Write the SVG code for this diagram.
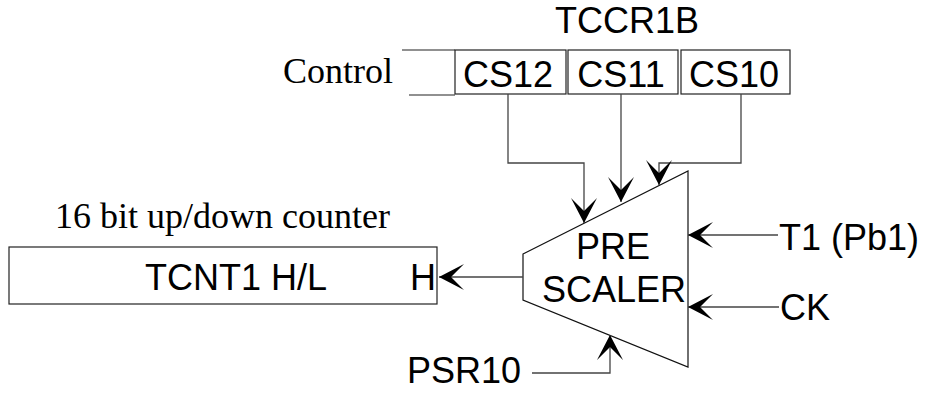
<svg xmlns="http://www.w3.org/2000/svg" width="926" height="396" viewBox="0 0 926 396">
<style>
.sans{font-family:"Liberation Sans",Arial,sans-serif;font-size:36px;fill:#000}
.serif{font-family:"Liberation Serif","Times New Roman",serif;font-size:36px;fill:#000}
.box{fill:#fff;stroke:#222;stroke-width:1.2}
.wire{fill:none;stroke:#444;stroke-width:1.3;marker-end:url(#arr)}
</style>
<defs>
<marker id="arr" markerUnits="userSpaceOnUse" viewBox="-27 -15 29 30" markerWidth="29" markerHeight="30" refX="0" refY="0" orient="auto">
<path d="M0,0 L-25,-13 L-12,0 L-25,13 Z" fill="#000"/>
</marker>
</defs>
<rect width="926" height="396" fill="#fff"/>
<g id="tccr1b">
<text class="sans" x="627" y="33" text-anchor="middle">TCCR1B</text>
<text class="serif" x="283" y="83">Control</text>
<line x1="402" y1="50" x2="455" y2="50" stroke="#222" stroke-width="1.2"/>
<line x1="409" y1="95" x2="455" y2="95" stroke="#222" stroke-width="1.2"/>
<g id="cs12"><rect class="box" x="455" y="50" width="111" height="44"/><text class="sans" x="508" y="87" text-anchor="middle">CS12</text></g>
<g id="cs11"><rect class="box" x="568" y="50" width="110" height="44"/><text class="sans" x="621" y="87" text-anchor="middle">CS11</text></g>
<g id="cs10"><rect class="box" x="681" y="50" width="109" height="44"/><text class="sans" x="734" y="87" text-anchor="middle">CS10</text></g>
</g>
<g id="counter">
<text class="serif" x="55" y="228">16 bit up/down counter</text>
<rect class="box" x="9" y="247" width="428" height="57"/>
<text class="sans" x="145" y="290">TCNT1 H/L</text>
<text class="sans" x="410" y="290">H</text>
</g>
<g id="prescaler">
<path d="M523,254 L688,171 L688,367 L523,300 Z" fill="#fff" stroke="#111" stroke-width="1.2"/>
<text class="sans" x="613" y="259" text-anchor="middle">PRE</text>
<text class="sans" x="614" y="302" text-anchor="middle">SCALER</text>
</g>
<g id="inputs">
<text class="sans" x="779" y="250">T1 (Pb1)</text>
<text class="sans" x="780" y="320">CK</text>
<text class="sans" x="407" y="383">PSR10</text>
</g>
<g id="connectors">
<path class="wire" d="M508,94 L508,163 L584,163 L584,223"/>
<path class="wire" d="M621,94 L621,202"/>
<path class="wire" d="M741,94 L741,163 L659,163 L659,185"/>
<path class="wire" d="M523,277 L439,277"/>
<path class="wire" d="M778,235 L688,235"/>
<path class="wire" d="M779,307 L688,307"/>
<path class="wire" d="M532,373 L610,373 L610,335"/>
</g>
</svg>
